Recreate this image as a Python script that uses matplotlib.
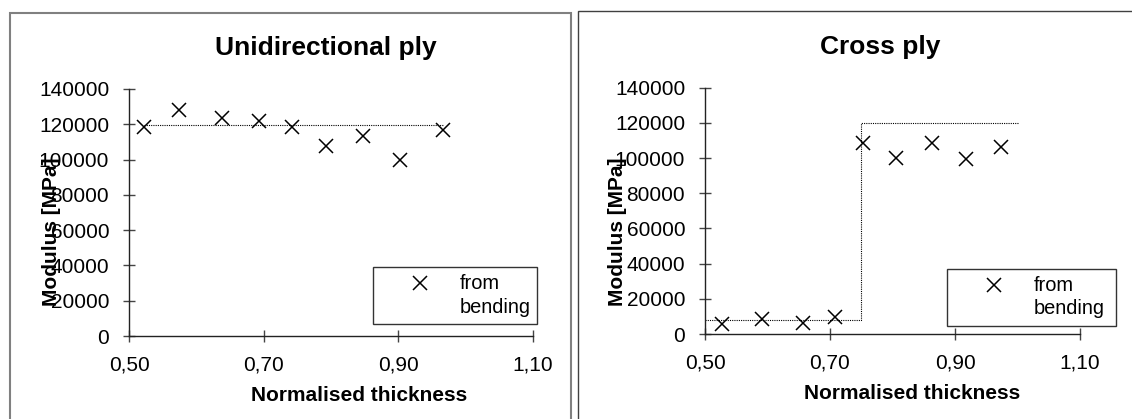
import matplotlib
matplotlib.use("Agg")
import matplotlib.pyplot as plt
from matplotlib.patches import Rectangle
from matplotlib.legend_handler import HandlerLine2D
from matplotlib.transforms import Affine2D

plt.rcParams["font.family"] = ["Liberation Sans", "DejaVu Sans"]

# ---- measured moduli (from bending) ----
ud_thickness = [0.522, 0.575, 0.638, 0.693, 0.742, 0.793, 0.847, 0.903, 0.967]
ud_modulus = [118300, 128300, 123600, 121700, 118500, 107500, 113200, 100000, 116600]

cp_thickness = [0.527, 0.591, 0.657, 0.708, 0.753, 0.805, 0.863, 0.917, 0.973]
cp_modulus = [5700, 8300, 6100, 9500, 108700, 100200, 108700, 99300, 106500]

# ---- reference (theory) lines ----
ud_ref_x = [0.522, 0.967]
ud_ref_y = [119800, 119800]

cp_ref_x = [0.50, 0.75, 0.75, 1.00]
cp_ref_y = [7700, 7700, 119700, 119700]

x_ticks = [0.50, 0.70, 0.90, 1.10]
x_tick_labels = ["0,50", "0,70", "0,90", "1,10"]
y_ticks = [0, 20000, 40000, 60000, 80000, 100000, 120000, 140000]

W, H = 1132, 419
fig = plt.figure(figsize=(W / 100, H / 100), dpi=100)


class FirstLineHandler(HandlerLine2D):
    # put the legend marker level with the first text line
    def create_artists(self, legend, orig_handle, xdescent, ydescent,
                       width, height, fontsize, trans):
        artists = super().create_artists(legend, orig_handle, xdescent,
                                         ydescent, width, height, fontsize,
                                         trans)
        shift = Affine2D().translate(0, 12.5)
        for a in artists:
            a.set_transform(a.get_transform() + shift)
        return artists


def px_rect(x0, y0, x1, y1):
    # pixel box (top-left origin) -> figure fraction [left, bottom, width, height]
    return [x0 / W, (H - y1) / H, (x1 - x0) / W, (y1 - y0) / H]


def style_axes(ax, title, title_xy, ylab_xy, xlab_xy):
    ax.set_xlim(0.5, 1.1)
    ax.set_ylim(0, 140000)
    ax.set_xticks(x_ticks)
    ax.set_xticklabels(x_tick_labels)
    ax.set_yticks(y_ticks)
    ax.set_yticklabels([str(v) for v in y_ticks])
    for side in ["top", "right"]:
        ax.spines[side].set_visible(False)
    for side in ["left", "bottom"]:
        ax.spines[side].set_color("#222222")
        ax.spines[side].set_linewidth(1.0)
    ax.tick_params(direction="inout", length=8.6, width=1.0, color="#444444",
                   labelsize=15, pad=10)
    ax.set_facecolor("none")
    ax.text(title_xy[0], title_xy[1], title, transform=ax.transAxes,
            ha="center", va="center", fontsize=19, fontweight="bold")
    ax.set_ylabel("Modulus [MPa]", fontsize=15, fontweight="bold")
    ax.yaxis.set_label_coords(*ylab_xy)
    ax.set_xlabel("Normalised thickness", fontsize=15, fontweight="bold")
    ax.xaxis.set_label_coords(*xlab_xy)


def add_legend(ax, box_px):
    x0, y0, x1, y1 = box_px
    leg = ax.legend(loc="upper left",
                    bbox_to_anchor=(x0 / W, 1 - y0 / H, (x1 - x0) / W, 0),
                    bbox_transform=fig.transFigure, mode="expand",
                    fontsize=14.4, frameon=True, fancybox=False,
                    borderpad=0.35, handlelength=4.0, handletextpad=0.0,
                    borderaxespad=0,
                    handler_map={ax.lines[-1]: FirstLineHandler()})
    for t in leg.get_texts():
        t.set_linespacing(1.3)
    leg.get_frame().set_edgecolor("black")
    leg.get_frame().set_linewidth(1.0)


# panel frames
fig.patches.append(Rectangle((10 / W, -0.1), (571 - 10) / W, 1.1 - 13 / H,
                             transform=fig.transFigure, fill=False,
                             edgecolor="#808080", linewidth=1.5))
fig.patches.append(Rectangle((577.5 / W, -0.1), 0.6, 1.1 - 11 / H,
                             transform=fig.transFigure, fill=False,
                             edgecolor="#404040", linewidth=1.0))

# ---- Unidirectional ply ----
ax1 = fig.add_axes(px_rect(129, 89, 533, 336))
ax1.plot(ud_ref_x, ud_ref_y, color="black", linewidth=0.8,
         linestyle=(0, (1, 1)))
ax1.plot(ud_thickness, ud_modulus, linestyle="none", marker="x",
         markersize=9.5, markeredgewidth=1.1, color="black",
         label="from\nbending", clip_on=False)
style_axes(ax1, "Unidirectional ply", (0.487, 1.166), (-0.168, 0.421),
           (0.569, -0.202))
add_legend(ax1, (373, 267, 537, 324))

# ---- Cross ply ----
ax2 = fig.add_axes(px_rect(705, 87.7, 1080, 334))
ax2.plot(cp_ref_x, cp_ref_y, color="black", linewidth=0.8,
         linestyle=(0, (1, 1)))
ax2.plot(cp_thickness, cp_modulus, linestyle="none", marker="x",
         markersize=9.5, markeredgewidth=1.1, color="black",
         label="from\nbending", clip_on=False)
style_axes(ax2, "Cross ply", (0.468, 1.165), (-0.207, 0.414),
           (0.552, -0.203))
add_legend(ax2, (947, 269, 1116, 327))

fig.savefig("out.png", dpi=100)
